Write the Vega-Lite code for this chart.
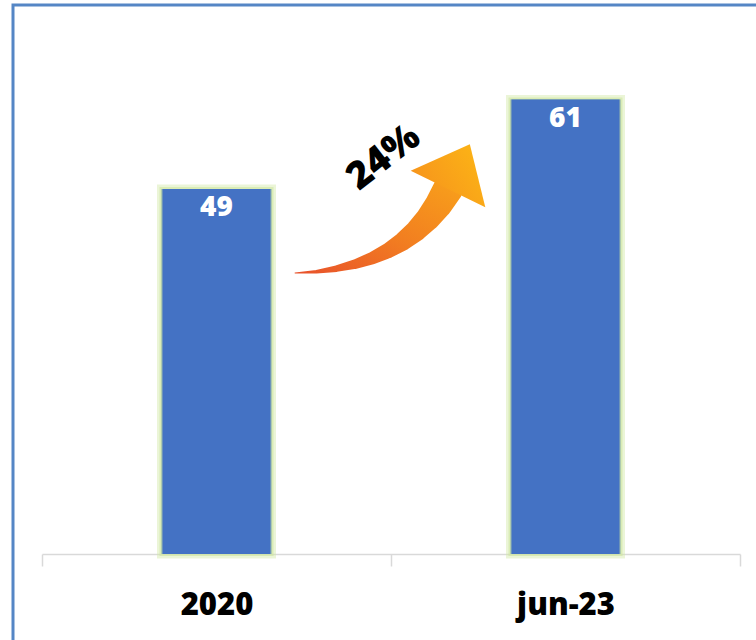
{
  "$schema": "https://vega.github.io/schema/vega-lite/v6.json",
  "width": 746,
  "height": 638,
  "autosize": "none",
  "padding": {"left": 13, "top": 5, "right": -3, "bottom": -3},
  "background": "white",
  "config": {
    "view": {"stroke": "#5586c5", "strokeWidth": 3},
    "font": "Open Sans"
  },
  "datasets": {
    "bars": [
      {"period": "2020", "value": 49},
      {"period": "jun-23", "value": 61}
    ],
    "arrow": [
      {"i": 0, "u": 0.7250, "v": 37.72, "w": 1},
      {"i": 1, "u": 0.7860, "v": 37.90, "w": 3.5},
      {"i": 2, "u": 0.8433, "v": 38.30, "w": 6.5},
      {"i": 3, "u": 0.8968, "v": 38.90, "w": 9.5},
      {"i": 4, "u": 0.9464, "v": 39.72, "w": 12.5},
      {"i": 5, "u": 0.9921, "v": 40.74, "w": 15.5},
      {"i": 6, "u": 1.0340, "v": 41.97, "w": 18.5},
      {"i": 7, "u": 1.0721, "v": 43.41, "w": 21.5},
      {"i": 8, "u": 1.1064, "v": 45.06, "w": 24.5},
      {"i": 9, "u": 1.1368, "v": 46.92, "w": 27.5},
      {"i": 10, "u": 1.1633, "v": 48.99, "w": 30}
    ],
    "head": [{"u": 1.1633, "v": 48.99}],
    "note": [{"u": 0.9800, "v": 53.2, "label": "24%"}]
  },
  "layer": [
    {
      "data": {"name": "bars"},
      "encoding": {
        "x": {
          "field": "period",
          "type": "nominal",
          "sort": null,
          "scale": {"type": "band", "domain": ["2020", "jun-23"], "range": [29, 727], "paddingInner": 0, "paddingOuter": 0},
          "axis": {
            "title": null,
            "offset": -89,
            "domainColor": "#d9d9d9",
            "domainWidth": 1.5,
            "tickColor": "#d9d9d9",
            "tickWidth": 1.5,
            "tickSize": 12,
            "tickBand": "extent",
            "labelFont": "Open Sans",
            "labelFontSize": 31,
            "labelFontWeight": 800,
            "labelColor": "#000000",
            "labelPadding": 24,
            "labelAngle": 0,
            "grid": false
          }
        },
        "y": {
          "field": "value",
          "type": "quantitative",
          "scale": {"domain": [0, 70], "range": [549, 27.5], "nice": false, "zero": true},
          "axis": null
        }
      },
      "layer": [
        {
          "mark": {"type": "bar", "width": 110, "color": "#4472c4", "stroke": "#d2e8a6", "strokeWidth": 9, "strokeOpacity": 0.45}
        },
        {
          "mark": {"type": "bar", "width": 110, "color": "#4472c4", "stroke": "#cfe6a0", "strokeWidth": 4, "strokeOpacity": 0.6}
        },
        {
          "mark": {"type": "bar", "width": 108, "color": "#4472c4"}
        },
        {
          "mark": {"type": "text", "baseline": "middle", "align": "center", "dy": 19, "fontSize": 28, "fontWeight": 800, "color": "#ffffff", "font": "Open Sans"},
          "encoding": {"text": {"field": "value", "type": "quantitative"}}
        }
      ]
    },
    {
      "encoding": {
        "x": {"field": "u", "type": "quantitative", "scale": {"domain": [0, 2], "range": [29, 727], "nice": false, "zero": false}, "axis": null},
        "y": {"field": "v", "type": "quantitative", "axis": null}
      },
      "layer": [
        {
          "data": {"name": "arrow"},
          "mark": {
            "type": "trail",
            "fill": {"gradient": "linear", "x1": 0, "y1": 1, "x2": 1, "y2": 0, "stops": [{"offset": 0, "color": "#e8512b"}, {"offset": 0.5, "color": "#f27f20"}, {"offset": 1, "color": "#f9a41a"}]},
            "color": {"gradient": "linear", "x1": 0, "y1": 1, "x2": 1, "y2": 0, "stops": [{"offset": 0, "color": "#e8512b"}, {"offset": 0.5, "color": "#f27f20"}, {"offset": 1, "color": "#f9a41a"}]}
          },
          "encoding": {
            "size": {"field": "w", "type": "quantitative", "scale": null, "legend": null},
            "order": {"field": "i", "type": "quantitative"}
          }
        },
        {
          "data": {"name": "head"},
          "mark": {
            "type": "point",
            "shape": "M0,-1.2L1,0L-1,0Z",
            "size": 6889,
            "angle": 26,
            "filled": true,
            "opacity": 1,
            "strokeWidth": 0,
            "fill": {"gradient": "linear", "x1": 0, "y1": 1, "x2": 1, "y2": 0, "stops": [{"offset": 0, "color": "#f7961c"}, {"offset": 1, "color": "#fdbb14"}]}
          }
        },
        {
          "data": {"name": "note"},
          "mark": {"type": "text", "angle": -38, "align": "center", "baseline": "middle", "fontSize": 38, "fontWeight": 800, "color": "#000000", "font": "Open Sans"},
          "encoding": {"text": {"field": "label", "type": "nominal"}}
        }
      ]
    }
  ],
  "resolve": {"scale": {"x": "independent"}}
}
